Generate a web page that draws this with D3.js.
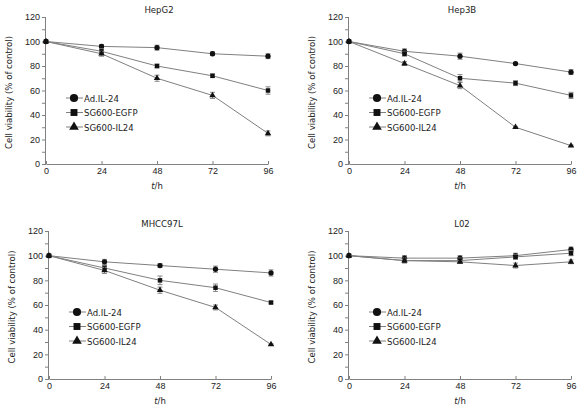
<!DOCTYPE html>
<html><head><meta charset="utf-8">
<script src="https://cdn.jsdelivr.net/npm/d3@7"></script>
<style>
body{margin:0;background:#fff;}
svg{display:block;font-family:"DejaVu Sans Condensed","DejaVu Sans",sans-serif;}
</style></head>
<body><svg id="c" width="585" height="414"></svg>
<script>
const timePoints = [0, 24, 48, 72, 96];
const yTicks = [0, 20, 40, 60, 80, 100, 120];
const seriesNames = ["Ad.IL-24", "SG600-EGFP", "SG600-IL24"];
const panelTitles = ["HepG2", "Hep3B", "MHCC97L", "L02"];

const hepg2Values = [[100, 96, 95, 90, 88], [100, 92, 80, 72, 60], [100, 90, 70, 56, 25]];
const hepg2Errors = [[0, 1.5, 2, 1.5, 2], [0, 2, 1.5, 1.5, 3], [0, 2, 2.5, 2.5, 2]];
const hep3bValues = [[100, 92, 88, 82, 75], [100, 90, 70, 66, 56], [100, 82, 64, 30, 15]];
const hep3bErrors = [[0, 2, 2.5, 1, 2], [0, 2, 3, 2, 2.5], [0, 1.5, 2.5, 0.5, 0.5]];
const mhccValues = [[100, 95, 92, 89, 86], [100, 90, 80, 74, 62], [100, 88, 72, 58, 28]];
const mhccErrors = [[0, 2, 1.5, 2.5, 2.5], [0, 2, 3.5, 3, 1], [0, 2.5, 2.5, 2, 0.5]];
const l02Values = [[100, 98, 98, 100, 105], [100, 96, 96, 99, 102], [100, 96, 95, 92, 95]];
const l02Errors = [[0, 2, 2, 2, 2], [0, 2, 2, 2, 2], [0, 1, 1, 2, 1.5]];

const panels = [
  {title: panelTitles[0], values: hepg2Values, errors: hepg2Errors, x0: 46, x1: 268, yT: 17, yB: 164},
  {title: panelTitles[1], values: hep3bValues, errors: hep3bErrors, x0: 349, x1: 571, yT: 17, yB: 164},
  {title: panelTitles[2], values: mhccValues, errors: mhccErrors, x0: 49, x1: 271, yT: 231, yB: 379},
  {title: panelTitles[3], values: l02Values, errors: l02Errors, x0: 349, x1: 571, yT: 231, yB: 379}
];

const svg = d3.select("#c");
const axisCol = "#808080", lineCol = "#808080", textCol = "#222";
const symTypes = [d3.symbolCircle, d3.symbolSquare, d3.symbolTriangle];
const plotSizes = [22, 20, 18];
const legSizes = [52, 48, 40];

panels.forEach(p => {
  const g = svg.append("g");
  const x = d3.scaleLinear().domain([0, 96]).range([p.x0, p.x1]);
  const y = d3.scaleLinear().domain([0, 120]).range([p.yB, p.yT]);

  const ya = g.append("g").attr("transform", `translate(${p.x0},0)`)
    .call(d3.axisLeft(y).tickValues(d3.range(0, 121, 10)).tickSize(4).tickFormat(d => yTicks.includes(d) ? d : ""));
  ya.select(".domain").attr("stroke", axisCol).attr("d", `M-0.5,${p.yT}V${p.yB}`);
  ya.selectAll(".tick line").attr("stroke", axisCol);
  ya.selectAll(".tick text").attr("fill", textCol).attr("font-size", 9).attr("x", -6);

  const xa = g.append("g").attr("transform", `translate(0,${p.yB})`)
    .call(d3.axisBottom(x).tickValues(timePoints).tickSize(-3).tickSizeOuter(0).tickPadding(4));
  xa.select(".domain").attr("stroke", axisCol);
  xa.selectAll(".tick line").attr("stroke", axisCol);
  xa.selectAll(".tick text").attr("fill", textCol).attr("font-size", 9).attr("dy", "0.71em");

  g.append("text").attr("x", (p.x0 + p.x1) / 2 + 2).attr("y", p.yT - 4).attr("text-anchor", "middle")
    .attr("font-size", 9.5).attr("fill", textCol).text(p.title);
  const xl = g.append("text").attr("x", (p.x0 + p.x1) / 2).attr("y", p.yB + 25).attr("text-anchor", "middle")
    .attr("font-size", 9.5).attr("fill", textCol);
  xl.append("tspan").attr("font-style", "italic").text("t");
  xl.append("tspan").text("/h");
  g.append("text").attr("transform", `translate(${p.x0 - 34},${(p.yT + p.yB) / 2 + 2}) rotate(-90)`)
    .attr("text-anchor", "middle").attr("font-size", 9.5).attr("fill", textCol).text("Cell viability (% of control)");

  const line = d3.line().x((d, i) => x(timePoints[i])).y(d => y(d));
  p.values.forEach((vals, s) => {
    const sg = g.append("g");
    sg.append("path").attr("d", line(vals)).attr("fill", "none").attr("stroke", lineCol).attr("stroke-width", 1);
    vals.forEach((v, i) => {
      const e = p.errors[s][i];
      if (e > 0) {
        const cx = x(timePoints[i]);
        sg.append("path").attr("d", `M${cx},${y(v - e)}V${y(v + e)}M${cx - 2.5},${y(v - e)}H${cx + 2.5}M${cx - 2.5},${y(v + e)}H${cx + 2.5}`)
          .attr("stroke", "#888").attr("stroke-width", 1).attr("fill", "none");
      }
    });
    sg.selectAll("path.m").data(vals).enter().append("path").attr("class", "m")
      .attr("d", d3.symbol().type(symTypes[s]).size(plotSizes[s]))
      .attr("transform", (d, i) => `translate(${x(timePoints[i])},${y(d)})`)
      .attr("fill", "#111");
  });

  seriesNames.forEach((name, s) => {
    const ly = p.yT + 81 + s * 14.5;
    const lx = p.x0 + 28;
    g.append("line").attr("x1", lx - 8).attr("x2", lx + 9).attr("y1", ly).attr("y2", ly)
      .attr("stroke", lineCol).attr("stroke-width", 1);
    g.append("path").attr("d", d3.symbol().type(symTypes[s]).size(legSizes[s]))
      .attr("transform", `translate(${lx},${ly})`).attr("fill", "#111");
    g.append("text").attr("x", lx + 10).attr("y", ly + 3.5).attr("font-size", 9.5).attr("fill", textCol).text(name);
  });
});
</script></body></html>
